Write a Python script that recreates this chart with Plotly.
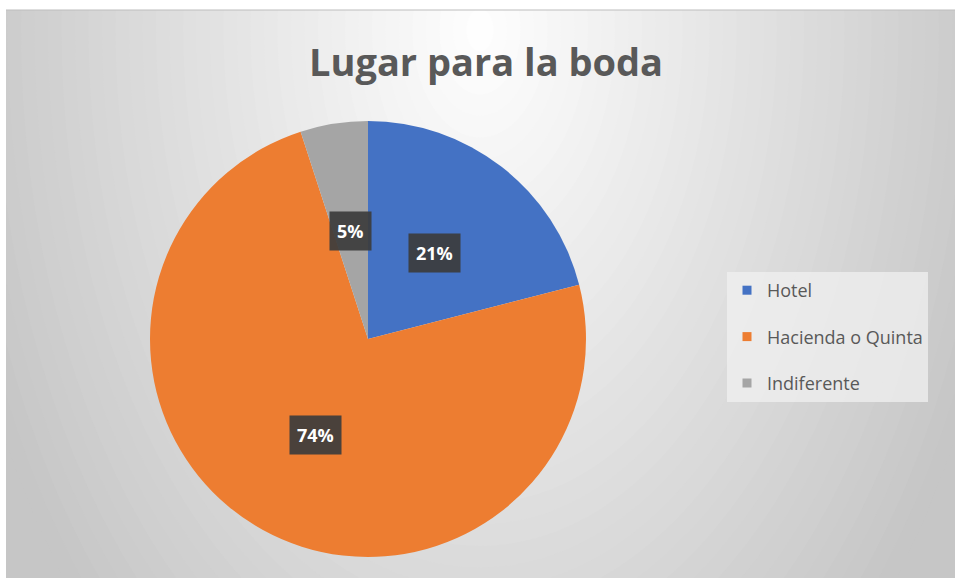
import math
import plotly.graph_objects as go

# ---- data ----
categories = ["Hotel", "Hacienda o Quinta", "Indiferente"]
values = [21, 74, 5]
colors = ["#4472C4", "#ED7D31", "#A5A5A5"]
title_text = "Lugar para la boda"

W, H = 955, 578

# pie geometry (pixels)
pcx, pcy, pr = 368, 339, 218
dom_x = [(pcx - pr) / W, (pcx + pr) / W]
dom_y = [1 - (pcy + pr) / H, 1 - (pcy - pr) / H]

fig = go.Figure()

fig.add_trace(go.Pie(
    labels=categories, values=values, sort=False, direction="clockwise",
    rotation=0, marker=dict(colors=colors, line=dict(width=0)),
    textinfo="none", hoverinfo="label+percent", showlegend=False,
    domain=dict(x=dom_x, y=dom_y),
))

# legend entries
for i, (c, col) in enumerate(zip(categories, colors)):
    fig.add_trace(go.Scatter(
        x=[None], y=[None], mode="markers", name=c,
        marker=dict(symbol="square", size=9, color=col),
        legendgroup=f"g{i}", showlegend=True,
    ))

# percentage labels in dark boxes, positioned from slice mid-angles
total = sum(values)
annotations = []
cum = 0
for v in values:
    mid = (cum + v / 2) / total * 2 * math.pi
    cum += v
    r = 0.5 * pr
    xp = pcx + r * math.sin(mid)
    yp = pcy - r * math.cos(mid)
    annotations.append(dict(
        x=xp / W, y=1 - yp / H, xref="paper", yref="paper",
        text=f"<b>{round(v / total * 100)}%</b>", showarrow=False,
        font=dict(family="Open Sans", size=18, color="white"),
        bgcolor="rgba(60,60,60,0.92)", borderpad=7,
        xanchor="center", yanchor="middle",
    ))

# background gradient via nested ellipses (clipped to chart frame)
X0, Y0 = 6, 10
fw, fh = W - X0, H - Y0
shapes = [dict(type="rect", xref="x", yref="y", x0=0, x1=fw, y0=0, y1=fh,
               fillcolor="rgb(198,198,198)", line=dict(width=0), layer="below")]
gcx, gcy = 480 - X0, fh - (30 - Y0)
K = 40
for k in range(K):
    s = 1 - k / K
    g = int(round(255 - 57 * s))
    rx, ry = 540 * s, 860 * s
    shapes.append(dict(type="circle", xref="x", yref="y",
                       x0=gcx - rx, x1=gcx + rx, y0=gcy - ry, y1=gcy + ry,
                       fillcolor=f"rgb({g},{g},{g})", line=dict(width=0), layer="below"))
shapes.append(dict(type="line", xref="paper", yref="paper",
                   x0=X0 / W, x1=1, y0=1 - Y0 / H, y1=1 - Y0 / H,
                   line=dict(color="#bdbdbd", width=1)))

fig.update_layout(
    width=W, height=H,
    margin=dict(l=0, r=0, t=0, b=0),
    paper_bgcolor="white", plot_bgcolor="rgba(0,0,0,0)",
    xaxis=dict(domain=[X0 / W, 1], range=[0, fw], visible=False, fixedrange=True),
    yaxis=dict(domain=[0, 1 - Y0 / H], range=[0, fh], visible=False, fixedrange=True),
    title=dict(text=f"<b>{title_text}</b>", x=486 / W, y=1 - 63 / H,
               xanchor="center", yanchor="middle", xref="paper", yref="paper",
               font=dict(family="Open Sans", size=38, color="#595959")),
    legend=dict(x=727 / W, y=1 - 272 / H, xanchor="left", yanchor="top",
                bgcolor="rgba(240,240,240,0.75)", font=dict(family="Open Sans", size=18, color="#595959"),
                tracegroupgap=20, itemclick=False),
    shapes=shapes,
    annotations=annotations,
    showlegend=True,
)

fig.write_html("out.html")
